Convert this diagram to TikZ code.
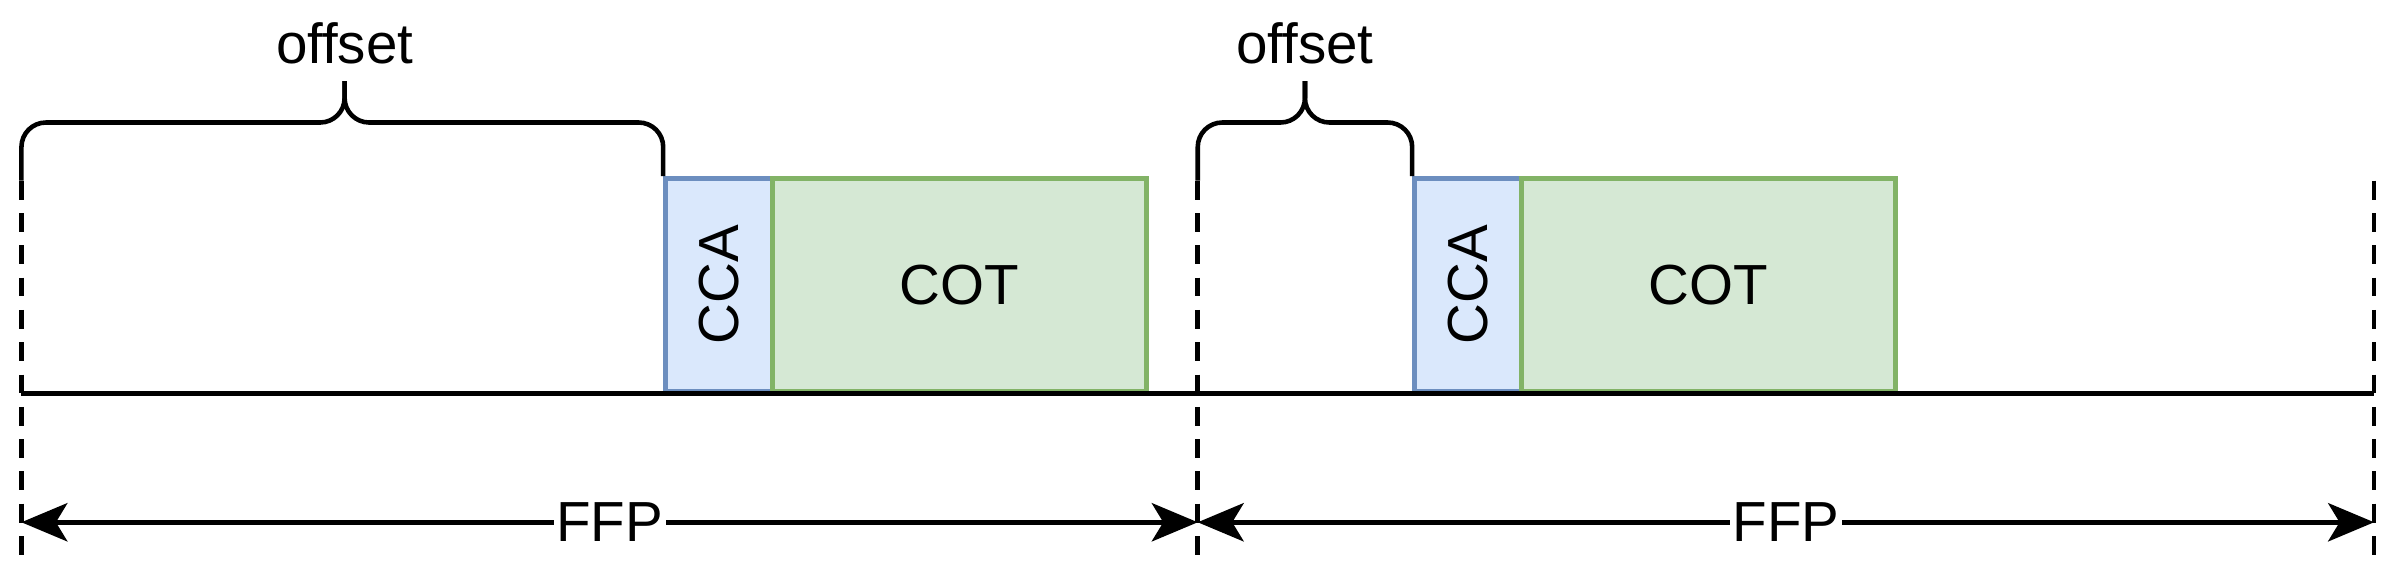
\documentclass[tikz,border=0pt]{standalone}
\usepackage{fontspec}
\setmainfont{Liberation Sans}
\usetikzlibrary{arrows.meta}
\definecolor{ccaF}{HTML}{DAE8FC}\definecolor{ccaS}{HTML}{6C8EBF}
\definecolor{cotF}{HTML}{D5E8D4}\definecolor{cotS}{HTML}{82B366}
\begin{document}
\begin{tikzpicture}[
  txt/.style={font=\fontsize{21}{25}\selectfont},
  cca/.style={draw=ccaS,fill=ccaF,line width=1.7pt,minimum width=1.4cm,minimum height=2.78cm,anchor=south west,inner sep=0pt,txt},
  cot/.style={draw=cotS,fill=cotF,line width=1.7pt,minimum width=4.88cm,minimum height=2.78cm,anchor=south west,inner sep=0pt,txt},
  dsh/.style={line width=1.7pt,dash pattern=on 7pt off 5pt},
  ffp/.style={line width=1.7pt,{Stealth[length=0.6cm,width=0.5cm,inset=0.15cm]}-{Stealth[length=0.6cm,width=0.5cm,inset=0.15cm]}},
  brace/.style={line width=1.7pt,rounded corners=0.32cm}]
\useasboundingbox (0,0) rectangle (31.3,7.66);
\coordinate (b0) at (0.28,2.52); \coordinate (b2) at (31.0,2.52);
\coordinate (d0t) at (0.28,5.3); \coordinate (d0b) at (0.28,0.36);
\coordinate (d1t) at (15.64,5.3); \coordinate (d1b) at (15.64,0.36);
\coordinate (d2t) at (31.0,5.3); \coordinate (d2b) at (31.0,0.36);
\coordinate (a0) at (0.28,0.84); \coordinate (a1) at (15.64,0.84); \coordinate (a2) at (31.0,0.84);
\node[cca] (cca1) at (8.66,2.52) {\rotatebox{90}{CCA}};
\node[cot] (cot1) at (10.06,2.52) {COT};
\node[cca] (cca2) at (18.44,2.52) {\rotatebox{90}{CCA}};
\node[cot] (cot2) at (19.84,2.52) {COT};
\draw[line width=2.1pt] (b0) -- (b2);
\draw[dsh] (d0t) -- (d0b); \draw[dsh] (d1t) -- (d1b); \draw[dsh] (d2t) -- (d2b);
\draw[ffp] (a0) -- node[fill=white,inner sep=1pt,txt] (f1) {FFP} (a1);
\draw[ffp] (a1) -- node[fill=white,inner sep=1pt,txt] (f2) {FFP} (a2);
\draw[brace] (d0t) |- (4.5,6.06) -- (4.5,6.6);
\draw[brace] (cca1.north west) |- (4.5,6.06) -- (4.5,6.6);
\draw[brace] (d1t) |- (17.04,6.06) -- (17.04,6.6);
\draw[brace] (cca2.north west) |- (17.04,6.06) -- (17.04,6.6);
\node[txt] (o1) at (4.5,7.1) {offset};
\node[txt] (o2) at (17.04,7.1) {offset};
\end{tikzpicture}
\end{document}
